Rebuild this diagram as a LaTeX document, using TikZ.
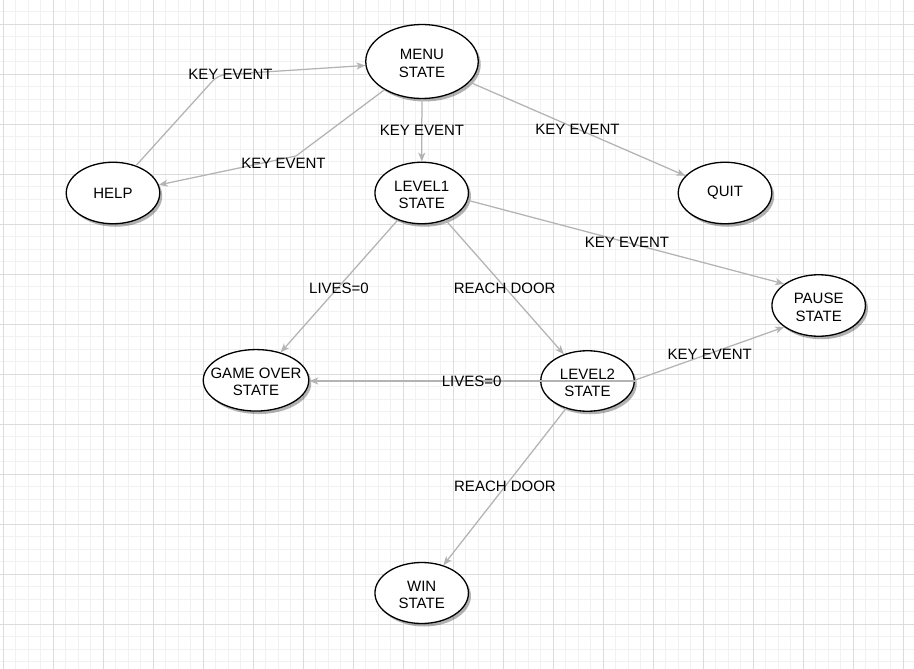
\documentclass[tikz,border=0pt]{standalone}
\usepackage{fontspec}
\setmainfont{Liberation Sans}
\usetikzlibrary{shapes.geometric,shadows,arrows.meta}
\definecolor{edgegray}{HTML}{B3B3B3}
\definecolor{gridmajor}{HTML}{DCDCDC}
\definecolor{gridminor}{HTML}{F1F1F1}
\newcommand\lineup{\rule{0pt}{14pt}}
\begin{document}
\begin{tikzpicture}[x=1pt,y=-1pt,
  state/.style={ellipse, draw=black, line width=1.3pt, fill=white, inner sep=0pt,
    align=center, font=\fontsize{15}{17.5}\selectfont,
    drop shadow={shadow xshift=2.5pt, shadow yshift=-3pt, fill=black, opacity=0.3}},
  trans/.style={draw=edgegray, line width=1.25pt, -{Stealth[length=9pt,width=7pt,inset=2.5pt]}},
  lbl/.style={inner sep=0pt, font=\fontsize{15}{17.5}\selectfont},
  minorline/.style={draw=gridminor, line width=1pt},
  majorline/.style={draw=gridmajor, line width=1pt}
]
\fill[white] (0,0) rectangle (914,669);
\useasboundingbox (0,0) rectangle (914,669);
% grid
\foreach \i in {0,...,72} \draw[minorline] ({3.3+12.5*\i},0) -- ({3.3+12.5*\i},669);
\foreach \j in {1,...,53} \draw[minorline] (0,{-0.7+12.5*\j}) -- (914,{-0.7+12.5*\j});
\foreach \i in {0,...,18} \draw[majorline] ({3.3+50*\i},0) -- ({3.3+50*\i},669);
\foreach \j in {0,...,12} \draw[majorline] (0,{24.3+50*\j}) -- (914,{24.3+50*\j});

% states
\node[state, minimum width=112.5pt, minimum height=74pt] (menu) at (422,61.5) {\lineup MENU\\STATE};
\node[state, minimum width=93.5pt, minimum height=61.5pt] (l1) at (421.7,193) {\lineup LEVEL1\\STATE};
\node[state, minimum width=93.5pt, minimum height=61.5pt] (help) at (113,193) {HELP};
\node[state, minimum width=93.5pt, minimum height=61.5pt] (quit) at (725,193) {QUIT};
\node[state, minimum width=93.5pt, minimum height=61.5pt] (pause) at (818.7,305.5) {\lineup PAUSE\\STATE};
\node[state, minimum width=105.5pt, minimum height=61.5pt, inner xsep=-9pt] (go) at (256,380.3) {\lineup GAME OVER\\STATE};
\node[state, minimum width=93.5pt, minimum height=60.5pt] (l2) at (587.5,381) {\lineup LEVEL2\\STATE};
\node[state, minimum width=93.5pt, minimum height=61pt] (win) at (421.7,593) {\lineup WIN\\STATE};

% waypoints
\coordinate (w1) at (218,75);
\coordinate (w2) at (296,156);

% transitions
\draw[trans, rounded corners=8pt] (help.50) -- (w1) -- (menu.184);
\draw[trans] (menu.217) -- (w2) -- (help.10);
\draw[trans] (menu) -- (l1);
\draw[trans] (menu) -- (quit);
\draw[trans] (l1) -- (go);
\draw[trans] (l1) -- (l2);
\draw[trans] (l1.-9) -- (pause.148);
\draw[trans] (l2.0) -- (l2.0 -| go.east);
\draw[trans] (l2.1) -- (pause.212);
\draw[trans] (l2) -- (win);

% labels
\node[lbl] (t1) at (230.5,74) {KEY EVENT};
\node[lbl] (t2) at (283.5,163.3) {KEY EVENT};
\node[lbl] (t3) at (422,130) {KEY EVENT};
\node[lbl] (t4) at (577.5,129.5) {KEY EVENT};
\node[lbl] (t5) at (339,288.3) {LIVES=0};
\node[lbl] (t6) at (504.7,288) {REACH DOOR};
\node[lbl] (t7) at (627,242) {KEY EVENT};
\node[lbl] (t8) at (471.7,381) {LIVES=0};
\node[lbl] (t9) at (709.7,354.3) {KEY EVENT};
\node[lbl] (t10) at (505,486.7) {REACH DOOR};
\end{tikzpicture}
\end{document}
